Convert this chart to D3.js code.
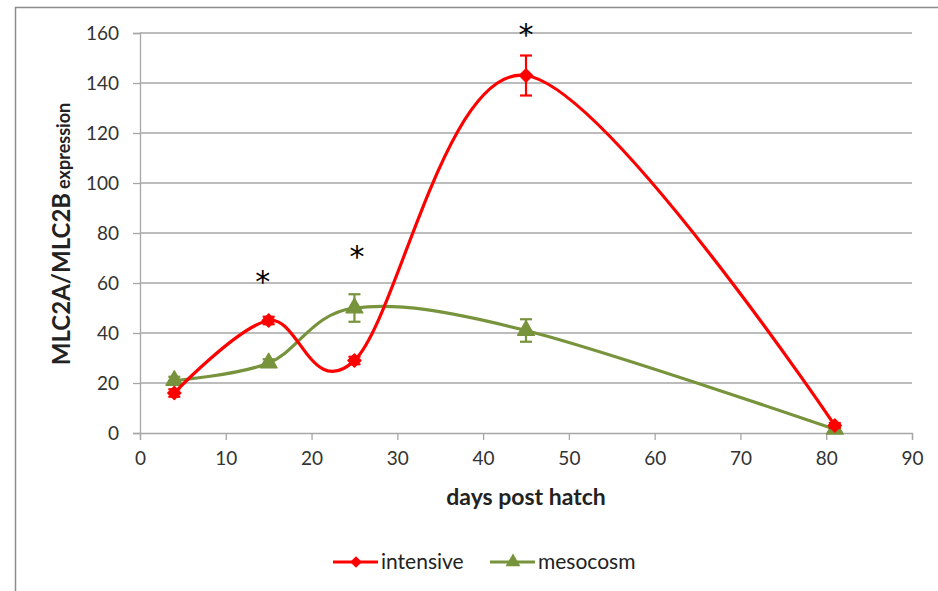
<!DOCTYPE html>
<html>
<head>
<meta charset="utf-8">
<script src="https://cdn.jsdelivr.net/npm/d3@7"></script>
<style>
  html, body { margin: 0; padding: 0; background: #fff; }
  svg { display: block; font-family: Lato, "Open Sans", sans-serif; }
</style>
</head>
<body>
<svg id="chart" width="938" height="591"></svg>
<script>
// Sampling days (days post hatch)
const days = [4, 15, 25, 45, 81];

// MLC2A/MLC2B expression per rearing system, with error (±) values
const intensive = [16, 45, 29, 143, 3];
const intensiveErr = [1.5, 1.5, 1.5, 8, 1];
const mesocosm = [21, 28, 50, 41, 1.5];
const mesocosmErr = [1.5, 1.5, 5.5, 4.5, 1];

// Significance markers (day, value)
const starDays = [14.3, 25.3, 45];
const starValues = [62, 72, 161];

const xTicks = [0, 10, 20, 30, 40, 50, 60, 70, 80, 90];
const yTicks = [0, 20, 40, 60, 80, 100, 120, 140, 160];

const seriesNames = ["intensive", "mesocosm"];
const seriesColors = ["#ff0000", "#77933c"];

const svg = d3.select("#chart");

// Outer chart frame
svg.append("rect")
  .attr("x", 15.5).attr("y", 7.5)
  .attr("width", 1000).attr("height", 700)
  .attr("fill", "none").attr("stroke", "#8c8c8c").attr("stroke-width", 1.5);

const x = d3.scaleLinear().domain([0, 90]).range([140, 912]);
const y = d3.scaleLinear().domain([0, 160]).range([433, 33]);

// Horizontal gridlines
svg.append("g").selectAll("line").data(yTicks.filter(d => d > 0)).join("line")
  .attr("x1", x(0)).attr("x2", x(90))
  .attr("y1", d => y(d)).attr("y2", d => y(d))
  .attr("stroke", "#a6a6a6").attr("stroke-width", 1.3);

// Y axis
const yAxis = svg.append("g").attr("transform", `translate(${x(0)},0)`)
  .call(d3.axisLeft(y).tickValues(yTicks).tickSize(7).tickPadding(14));
// X axis
const xAxis = svg.append("g").attr("transform", `translate(0,${y(0)})`)
  .call(d3.axisBottom(x).tickValues(xTicks).tickSize(7).tickPadding(12));

[yAxis, xAxis].forEach(a => {
  a.selectAll("path").attr("stroke", "#a6a6a6").attr("stroke-width", 1.3);
  a.selectAll("line").attr("stroke", "#a6a6a6").attr("stroke-width", 1.3);
  a.selectAll("text").attr("font-family", "Lato, sans-serif")
    .attr("font-size", 19).attr("fill", "#333");
});

// Axis titles
svg.append("text")
  .attr("x", 526).attr("y", 505)
  .attr("text-anchor", "middle")
  .attr("font-size", 23).attr("font-weight", "bold").attr("fill", "#222")
  .text("days post hatch");

const yTitle = svg.append("text")
  .attr("transform", "translate(70,234) rotate(-90)")
  .attr("text-anchor", "middle")
  .attr("font-weight", "bold").attr("fill", "#222");
yTitle.append("tspan").attr("font-size", 24).text("MLC2A/MLC2B");
yTitle.append("tspan").attr("font-size", 18).attr("dx", 4).text("expression");

const curve = d3.curveCatmullRom.alpha(0);
const line = d3.line().x(d => x(d[0])).y(d => y(d[1])).curve(curve);

// Diamond drawn as a square turned 45°, triangle as d3's own
const series = [
  { name: seriesNames[0], color: seriesColors[0], values: intensive, err: intensiveErr,
    shape: d3.symbolSquare, size: 85, rot: 45 },
  { name: seriesNames[1], color: seriesColors[1], values: mesocosm, err: mesocosmErr,
    shape: d3.symbolTriangle, size: 120, rot: 0 }
];

// Draw mesocosm first, intensive on top
[series[1], series[0]].forEach(s => {
  const pts = days.map((d, i) => [d, s.values[i], s.err[i]]);
  const g = svg.append("g");
  g.append("path").datum(pts)
    .attr("d", line).attr("fill", "none")
    .attr("stroke", s.color).attr("stroke-width", 3.2);

  // Error bars
  const eb = g.selectAll(".eb").data(pts).join("g");
  eb.append("line")
    .attr("x1", d => x(d[0])).attr("x2", d => x(d[0]))
    .attr("y1", d => y(d[1] - d[2])).attr("y2", d => y(d[1] + d[2]))
    .attr("stroke", s.color).attr("stroke-width", 2.2);
  [-1, 1].forEach(sign => {
    eb.append("line")
      .attr("x1", d => x(d[0]) - 6).attr("x2", d => x(d[0]) + 6)
      .attr("y1", d => y(d[1] + sign * d[2])).attr("y2", d => y(d[1] + sign * d[2]))
      .attr("stroke", s.color).attr("stroke-width", 2.2);
  });

  // Markers
  g.selectAll(".m").data(pts).join("path")
    .attr("transform", d => `translate(${x(d[0])},${y(d[1])}) rotate(${s.rot})`)
    .attr("d", d3.symbol().type(s.shape).size(s.size))
    .attr("fill", s.color).attr("stroke", s.color).attr("stroke-width", 1.5)
    .attr("stroke-linejoin", "round");
});

// Significance asterisks
svg.append("g").selectAll("text").data(starDays.map((d, i) => [d, starValues[i]])).join("text")
  .attr("x", d => x(d[0])).attr("y", d => y(d[1]) + 14)
  .attr("text-anchor", "middle")
  .attr("font-family", "DejaVu Sans, sans-serif")
  .attr("font-size", 30).attr("fill", "#000")
  .text("*");

// Legend
const legend = svg.append("g");
const legendX = [333, 490];
series.forEach((s, i) => {
  const lx = legendX[i], ly = 562;
  legend.append("line")
    .attr("x1", lx).attr("x2", lx + 45).attr("y1", ly).attr("y2", ly)
    .attr("stroke", s.color).attr("stroke-width", 3.2);
  legend.append("path")
    .attr("transform", `translate(${lx + 23},${ly}) rotate(${s.rot})`)
    .attr("d", d3.symbol().type(s.shape).size(s.size * 0.8))
    .attr("fill", s.color);
  legend.append("text")
    .attr("x", lx + 48).attr("y", ly + 7)
    .attr("font-size", 21).attr("fill", "#222")
    .text(s.name);
});
</script>
</body>
</html>
